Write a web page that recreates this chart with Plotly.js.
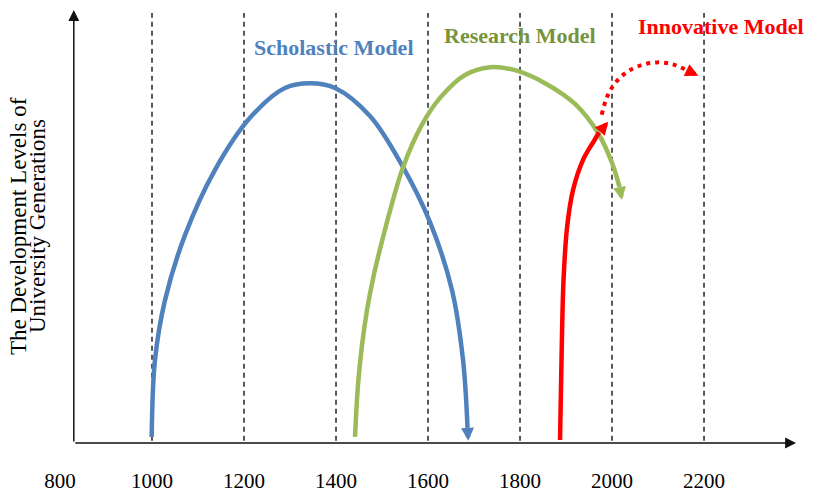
<!DOCTYPE html>
<html>
<head>
<meta charset="utf-8">
<script src="https://cdn.plot.ly/plotly-3.0.1.min.js"></script>
<style>html,body{margin:0;padding:0;background:#fff;}#chart{width:813px;height:496px;}</style>
</head>
<body>
<div id="chart"></div>
<script>
// Tick labels (years)
var tickYears = [800, 1000, 1200, 1400, 1600, 1800, 2000, 2200];
var tickLabels = ["800", "1000", "1200", "1400", "1600", "1800", "2000", "2200"];
// Dashed reference lines (years)
var gridYears = [1000, 1200, 1400, 1600, 1800, 2000, 2200];

// Scholastic Model curve (last point = arrow tip)
var scholasticX = [999.3, 1006.5, 1028.3, 1071.7, 1137.0, 1213.0, 1289.1, 1343.5, 1397.8, 1473.9, 1545.7, 1604.3, 1652.2, 1676.1, 1685.9, 1687.6];
var scholasticY = [1.4, 19.2, 33.0, 48.0, 63.1, 75.1, 82.0, 83.1, 82.0, 75.5, 63.7, 51.0, 35.3, 19.2, 3.5, 0.5];

// Research Model curve (last point = arrow tip)
var researchX = [1441.3, 1447.8, 1456.5, 1467.4, 1481.1, 1497.8, 1519.6, 1545.7, 1586.3, 1626.1, 1680.4, 1734.8, 1789.1, 1854.3, 1919.6, 1969.6, 2000.0, 2016.3, 2021.7];
var researchY = [1.4, 13.4, 22.6, 30.7, 38.3, 45.7, 54.5, 63.7, 73.4, 79.7, 85.0, 86.8, 86.1, 83.1, 78.3, 71.6, 64.7, 59.1, 56.1];

// Innovative Model curve, solid part (last point = arrow tip)
var innovativeX = [1887.0, 1890.2, 1894.6, 1902.2, 1915.2, 1937.0, 1960.9, 1971.7, 1992.0];
var innovativeY = [0.7, 19.2, 37.6, 49.7, 58.4, 65.4, 69.8, 71.7, 74.2];

// Innovative Model projection, dotted part (last point = arrow tip)
var projectionX = [1977.6, 1989.1, 2006.5, 2032.6, 2065.2, 2097.8, 2130.4, 2164.1, 2187.6];
var projectionY = [75.8, 79.9, 83.1, 85.7, 87.3, 87.9, 87.5, 86.0, 84.8];

var seriesNames = ["Scholastic Model", "Research Model", "Innovative Model"];
var yTitleLines = ["The Development Levels of", "University Generations"];

var BLUE = "#4F81BD", GREEN = "#9BBB59", RED = "#FF0000";

function curve(x, y, color, width, dash) {
  return {
    x: x.slice(0, -1), y: y.slice(0, -1), type: "scatter", mode: "lines",
    line: {color: color, width: width, shape: "spline", smoothing: 1, dash: dash, simplify: false},
    hoverinfo: "skip", showlegend: false
  };
}
function arrowHead(x, y, color, width) {
  var n = x.length;
  return {x: x[n - 1], y: y[n - 1], ax: x[n - 2], ay: y[n - 2], xref: "x", yref: "y", axref: "x", ayref: "y",
    text: "", showarrow: true, arrowhead: 2, arrowsize: 2.6 / width, arrowwidth: width, arrowcolor: color, standoff: 0};
}

var traces = [
  curve(scholasticX, scholasticY, BLUE, 4.5, "solid"),
  curve(researchX, researchY, GREEN, 4.5, "solid"),
  curve(innovativeX, innovativeY, RED, 4.5, "solid"),
  curve(projectionX, projectionY, RED, 4, "4px,5px")
];

var shapes = gridYears.map(function (g) {
  return {type: "line", xref: "x", yref: "y", x0: g, x1: g, y0: 0.5, y1: 99.3,
    line: {color: "#222", width: 1.5, dash: "5px,4px"}, layer: "below"};
});

var AXIS_X = 830;
var annotations = [
  {x: 2400, y: 0, ax: AXIS_X, ay: 0, axref: "x", ayref: "y", xref: "x", yref: "y",
    text: "", showarrow: true, arrowhead: 2, arrowsize: 1.45, arrowwidth: 1.5, arrowcolor: "#111"},
  {x: AXIS_X, y: 100, ax: AXIS_X, ay: 0, axref: "x", ayref: "y", xref: "x", yref: "y",
    text: "", showarrow: true, arrowhead: 2, arrowsize: 1.45, arrowwidth: 1.5, arrowcolor: "#111"},
  arrowHead(scholasticX, scholasticY, BLUE, 4.5),
  arrowHead(researchX, researchY, GREEN, 4.5),
  arrowHead(innovativeX, innovativeY, RED, 4.5),
  arrowHead(projectionX, projectionY, RED, 4),
  {x: 1396, y: 91.3, xref: "x", yref: "y", text: "<b>" + seriesNames[0] + "</b>", showarrow: false,
    font: {size: 22, color: BLUE}, xanchor: "center", yanchor: "middle"},
  {x: 1801, y: 94.2, xref: "x", yref: "y", text: "<b>" + seriesNames[1] + "</b>", showarrow: false,
    font: {size: 22, color: "#77933C"}, xanchor: "center", yanchor: "middle"},
  {x: 2237, y: 96.2, xref: "x", yref: "y", text: "<b>" + seriesNames[2] + "</b>", showarrow: false,
    font: {size: 22, color: RED}, xanchor: "center", yanchor: "middle"},
  {x: -0.0569, y: 0.501, xref: "paper", yref: "paper", text: yTitleLines[0], textangle: -90, showarrow: false,
    font: {size: 23, color: "#000"}, xanchor: "center", yanchor: "middle"},
  {x: -0.0312, y: 0.501, xref: "paper", yref: "paper", text: yTitleLines[1], textangle: -90, showarrow: false,
    font: {size: 23, color: "#000"}, xanchor: "center", yanchor: "middle"}
];

var layout = {
  width: 813, height: 496,
  margin: {l: 60, r: 15, t: 10, b: 53, pad: 0},
  paper_bgcolor: "#fff", plot_bgcolor: "#fff",
  font: {family: "'Times New Roman', 'Liberation Serif', serif", color: "#000"},
  showlegend: false,
  xaxis: {range: [800, 2404.3], tickvals: tickYears, ticktext: tickLabels, showgrid: false, zeroline: false,
    showline: false, ticks: "", ticklabelstandoff: 23, tickfont: {size: 21, color: "#000"}, fixedrange: true},
  yaxis: {range: [0, 100], showticklabels: false, showgrid: false, zeroline: false, showline: false,
    ticks: "", fixedrange: true},
  shapes: shapes,
  annotations: annotations
};

Plotly.newPlot("chart", traces, layout, {displayModeBar: false, staticPlot: true});
</script>
</body>
</html>
